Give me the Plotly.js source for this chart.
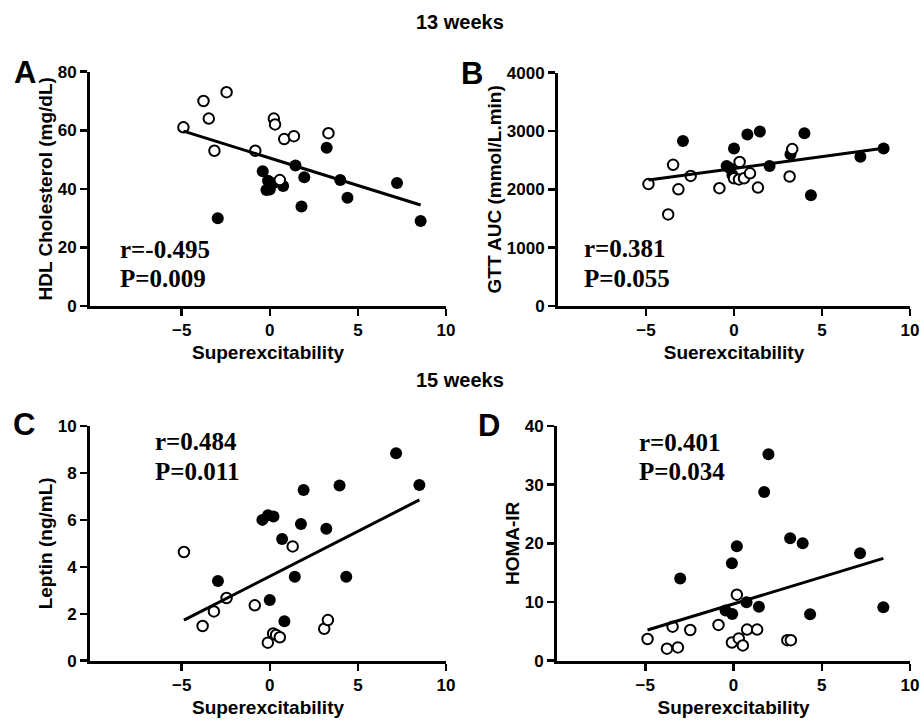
<!DOCTYPE html>
<html><head><meta charset="utf-8">
<script src="https://cdn.plot.ly/plotly-3.0.1.min.js"></script>
<style>html,body{margin:0;padding:0;background:#fff}#chart{width:920px;height:723px}</style>
</head><body><div id="chart"></div>
<script>
// ---- Panel A: HDL Cholesterol, 13 weeks ----
const hdlOpenX   = [-4.9, -3.76, -3.46, -3.14, -2.45, -0.82, 0.23, 0.3, 0.82, 1.37, 3.33, 0.57];
const hdlOpenY   = [61, 70, 64, 53, 73, 53, 64, 62, 57, 58, 59, 43];
const hdlFilledX = [-2.95, -0.4, -0.19, 0.0, -0.1, 0.19, 0.76, 1.46, 1.96, 1.8, 3.23, 4.0, 4.41, 7.22, 8.56];
const hdlFilledY = [30, 46, 39.6, 39.8, 42.8, 41.9, 41, 48, 44, 34, 54, 43, 37, 42, 29];
const hdlFitX    = [-4.9, 8.56];
const hdlFitY    = [59.7, 34.5];

// ---- Panel B: GTT AUC, 13 weeks ----
const gttOpenX   = [-4.86, -3.74, -3.46, -3.16, -2.46, -0.83, 0.32, 0.0, 0.28, 0.57, 0.91, 1.36, 3.16, 3.31];
const gttOpenY   = [2090, 1570, 2420, 2000, 2230, 2020, 2470, 2190, 2170, 2190, 2275, 2030, 2220, 2690];
const gttFilledX = [-2.9, 0.0, -0.42, -0.23, -0.09, 0.76, 1.47, 2.02, 4.0, 3.21, 4.37, 7.18, 8.5];
const gttFilledY = [2830, 2700, 2400, 2360, 2246, 2940, 2990, 2400, 2960, 2600, 1900, 2560, 2700];
const gttFitX    = [-4.86, 8.5];
const gttFitY    = [2160, 2705];

// ---- Panel C: Leptin, 15 weeks ----
const lepOpenX   = [-4.87, -3.81, -3.17, -2.45, -0.85, -0.11, 0.19, 0.36, 0.57, 1.3, 3.09, 3.3];
const lepOpenY   = [4.63, 1.48, 2.1, 2.67, 2.36, 0.77, 1.16, 1.1, 1.0, 4.87, 1.36, 1.73];
const lepFilledX = [-2.94, -0.42, -0.1, 0.21, 0.0, 0.7, 0.83, 1.42, 1.77, 1.92, 3.21, 3.96, 4.34, 7.17, 8.49];
const lepFilledY = [3.4, 6.0, 6.2, 6.14, 2.59, 5.19, 1.68, 3.58, 5.82, 7.27, 5.62, 7.46, 3.58, 8.84, 7.49];
const lepFitX    = [-4.87, 8.49];
const lepFitY    = [1.73, 6.85];

// ---- Panel D: HOMA-IR, 15 weeks ----
const homaOpenX   = [-4.87, -3.77, -3.45, -3.15, -2.45, -0.85, -0.09, 0.19, 0.3, 0.53, 0.77, 1.34, 3.05, 3.25];
const homaOpenY   = [3.7, 2.05, 5.8, 2.27, 5.23, 6.1, 3.1, 11.25, 3.8, 2.6, 5.3, 5.3, 3.5, 3.5];
const homaFilledX = [-3.02, -0.09, 0.19, -0.45, -0.07, 0.74, 1.44, 1.74, 1.98, 3.21, 3.92, 4.34, 7.17, 8.49];
const homaFilledY = [14, 16.6, 19.5, 8.55, 7.95, 9.95, 9.2, 28.75, 35.2, 20.85, 20, 7.9, 18.3, 9.1];
const homaFitX    = [-4.87, 8.49];
const homaFitY    = [5.23, 17.44];

// ---- Text ----
const xTickVals = [-5, 0, 5, 10];
const panelLetters = ['A', 'B', 'C', 'D'];
const yTitles = ['HDL Cholesterol (mg/dL)', 'GTT AUC (mmol/L.min)', 'Leptin (ng/mL)', 'HOMA-IR'];
const xTitles = ['Superexcitability', 'Suerexcitability', 'Superexcitability', 'Superexcitability'];
const yTickVals = [[0, 20, 40, 60, 80], [0, 1000, 2000, 3000, 4000], [0, 2, 4, 6, 8, 10], [0, 10, 20, 30, 40]];
const yRanges = [[0, 80], [0, 4000], [0, 10], [0, 40]];
const statR = ['r=-0.495', 'r=0.381', 'r=0.484', 'r=0.401'];
const statP = ['P=0.009', 'P=0.055', 'P=0.011', 'P=0.034'];
const sectionTitles = ['13 weeks', '15 weeks'];

const W = 920, H = 723;
const px = v => v / W;
const py = v => 1 - v / H;

const sans = 'Arial, "Liberation Sans", sans-serif';
const serif = '"Times New Roman", "Liberation Serif", serif';

const panels = [
  {oX: hdlOpenX, oY: hdlOpenY, fX: hdlFilledX, fY: hdlFilledY, lX: hdlFitX, lY: hdlFitY},
  {oX: gttOpenX, oY: gttOpenY, fX: gttFilledX, fY: gttFilledY, lX: gttFitX, lY: gttFitY},
  {oX: lepOpenX, oY: lepOpenY, fX: lepFilledX, fY: lepFilledY, lX: lepFitX, lY: lepFitY},
  {oX: homaOpenX, oY: homaOpenY, fX: homaFilledX, fY: homaFilledY, lX: homaFitX, lY: homaFitY}
];

// layout geometry (pixels)
const geo = [
  {x0: 90, x1: 446, yb: 306, yt: 71.7, xr: [-10.2, 10]},
  {x0: 558, x1: 910, yb: 306, yt: 72.7, xr: [-10, 10]},
  {x0: 90, x1: 446, yb: 660.7, yt: 426, xr: [-10.2, 10]},
  {x0: 557, x1: 910, yb: 660.7, yt: 426, xr: [-10, 10]}
];
const statPos = [
  {x: 118, yr: 249, yp: 278},
  {x: 582, yr: 248, yp: 278},
  {x: 153, yr: 441, yp: 471},
  {x: 637, yr: 442, yp: 471}
];
const letterPos = [[24.5, 73], [472, 74], [24, 424], [489.5, 425]];

const traces = [];
const layout = {
  width: W, height: H,
  margin: {l: 0, r: 0, t: 0, b: 0},
  paper_bgcolor: '#fff', plot_bgcolor: '#fff',
  showlegend: false,
  annotations: []
};

panels.forEach((p, i) => {
  const n = i === 0 ? '' : String(i + 1);
  const xa = 'x' + n, ya = 'y' + n;
  traces.push({x: p.fX, y: p.fY, xaxis: xa, yaxis: ya, type: 'scatter', mode: 'markers',
    marker: {symbol: 'circle', size: 12, color: '#000', line: {width: 0}}, hoverinfo: 'skip'});
  traces.push({x: p.oX, y: p.oY, xaxis: xa, yaxis: ya, type: 'scatter', mode: 'markers',
    marker: {symbol: 'circle', size: 10.5, color: '#fff', line: {width: 2, color: '#000'}}, hoverinfo: 'skip'});
  traces.push({x: p.lX, y: p.lY, xaxis: xa, yaxis: ya, type: 'scatter', mode: 'lines',
    line: {color: '#000', width: 3}, hoverinfo: 'skip'});
  const g = geo[i];
  layout['xaxis' + n] = {
    domain: [px(g.x0), px(g.x1)], range: g.xr, anchor: ya,
    showline: true, linewidth: 3, linecolor: '#000',
    ticks: 'outside', ticklen: 7, tickwidth: 2.5, tickcolor: '#000',
    tickmode: 'array', tickvals: xTickVals,
    showgrid: false, zeroline: false,
    tickfont: {family: sans, size: 17, color: '#000', weight: 'bold'},
    title: {text: xTitles[i], font: {family: sans, size: 19, color: '#000', weight: 'bold'}, standoff: 7}
  };
  layout['yaxis' + n] = {
    domain: [py(g.yb), py(g.yt)], range: yRanges[i], anchor: xa,
    showline: true, linewidth: 3, linecolor: '#000',
    ticks: 'outside', ticklen: 7, tickwidth: 2.5, tickcolor: '#000',
    tickmode: 'array', tickvals: yTickVals[i],
    showgrid: false, zeroline: false,
    tickfont: {family: sans, size: 17, color: '#000', weight: 'bold'},
    title: {text: yTitles[i], font: {family: sans, size: 19, color: '#000', weight: 'bold'}, standoff: 1}
  };
  const s = statPos[i];
  layout.annotations.push({xref: 'paper', yref: 'paper', x: px(s.x), y: py(s.yr), xanchor: 'left', yanchor: 'middle',
    text: statR[i], showarrow: false, font: {family: serif, size: 25, color: '#000', weight: 'bold'}});
  layout.annotations.push({xref: 'paper', yref: 'paper', x: px(s.x), y: py(s.yp), xanchor: 'left', yanchor: 'middle',
    text: statP[i], showarrow: false, font: {family: serif, size: 25, color: '#000', weight: 'bold'}});
  layout.annotations.push({xref: 'paper', yref: 'paper', x: px(letterPos[i][0]), y: py(letterPos[i][1]), xanchor: 'center', yanchor: 'middle',
    text: panelLetters[i], showarrow: false, font: {family: sans, size: 31, color: '#000', weight: 'bold'}});
});

layout.annotations.push({xref: 'paper', yref: 'paper', x: px(460), y: py(22), xanchor: 'center', yanchor: 'middle',
  text: sectionTitles[0], showarrow: false, font: {family: sans, size: 20, color: '#000', weight: 'bold'}});
layout.annotations.push({xref: 'paper', yref: 'paper', x: px(460), y: py(380), xanchor: 'center', yanchor: 'middle',
  text: sectionTitles[1], showarrow: false, font: {family: sans, size: 20, color: '#000', weight: 'bold'}});

Plotly.newPlot('chart', traces, layout, {displayModeBar: false, staticPlot: true});
</script>
</body></html>
